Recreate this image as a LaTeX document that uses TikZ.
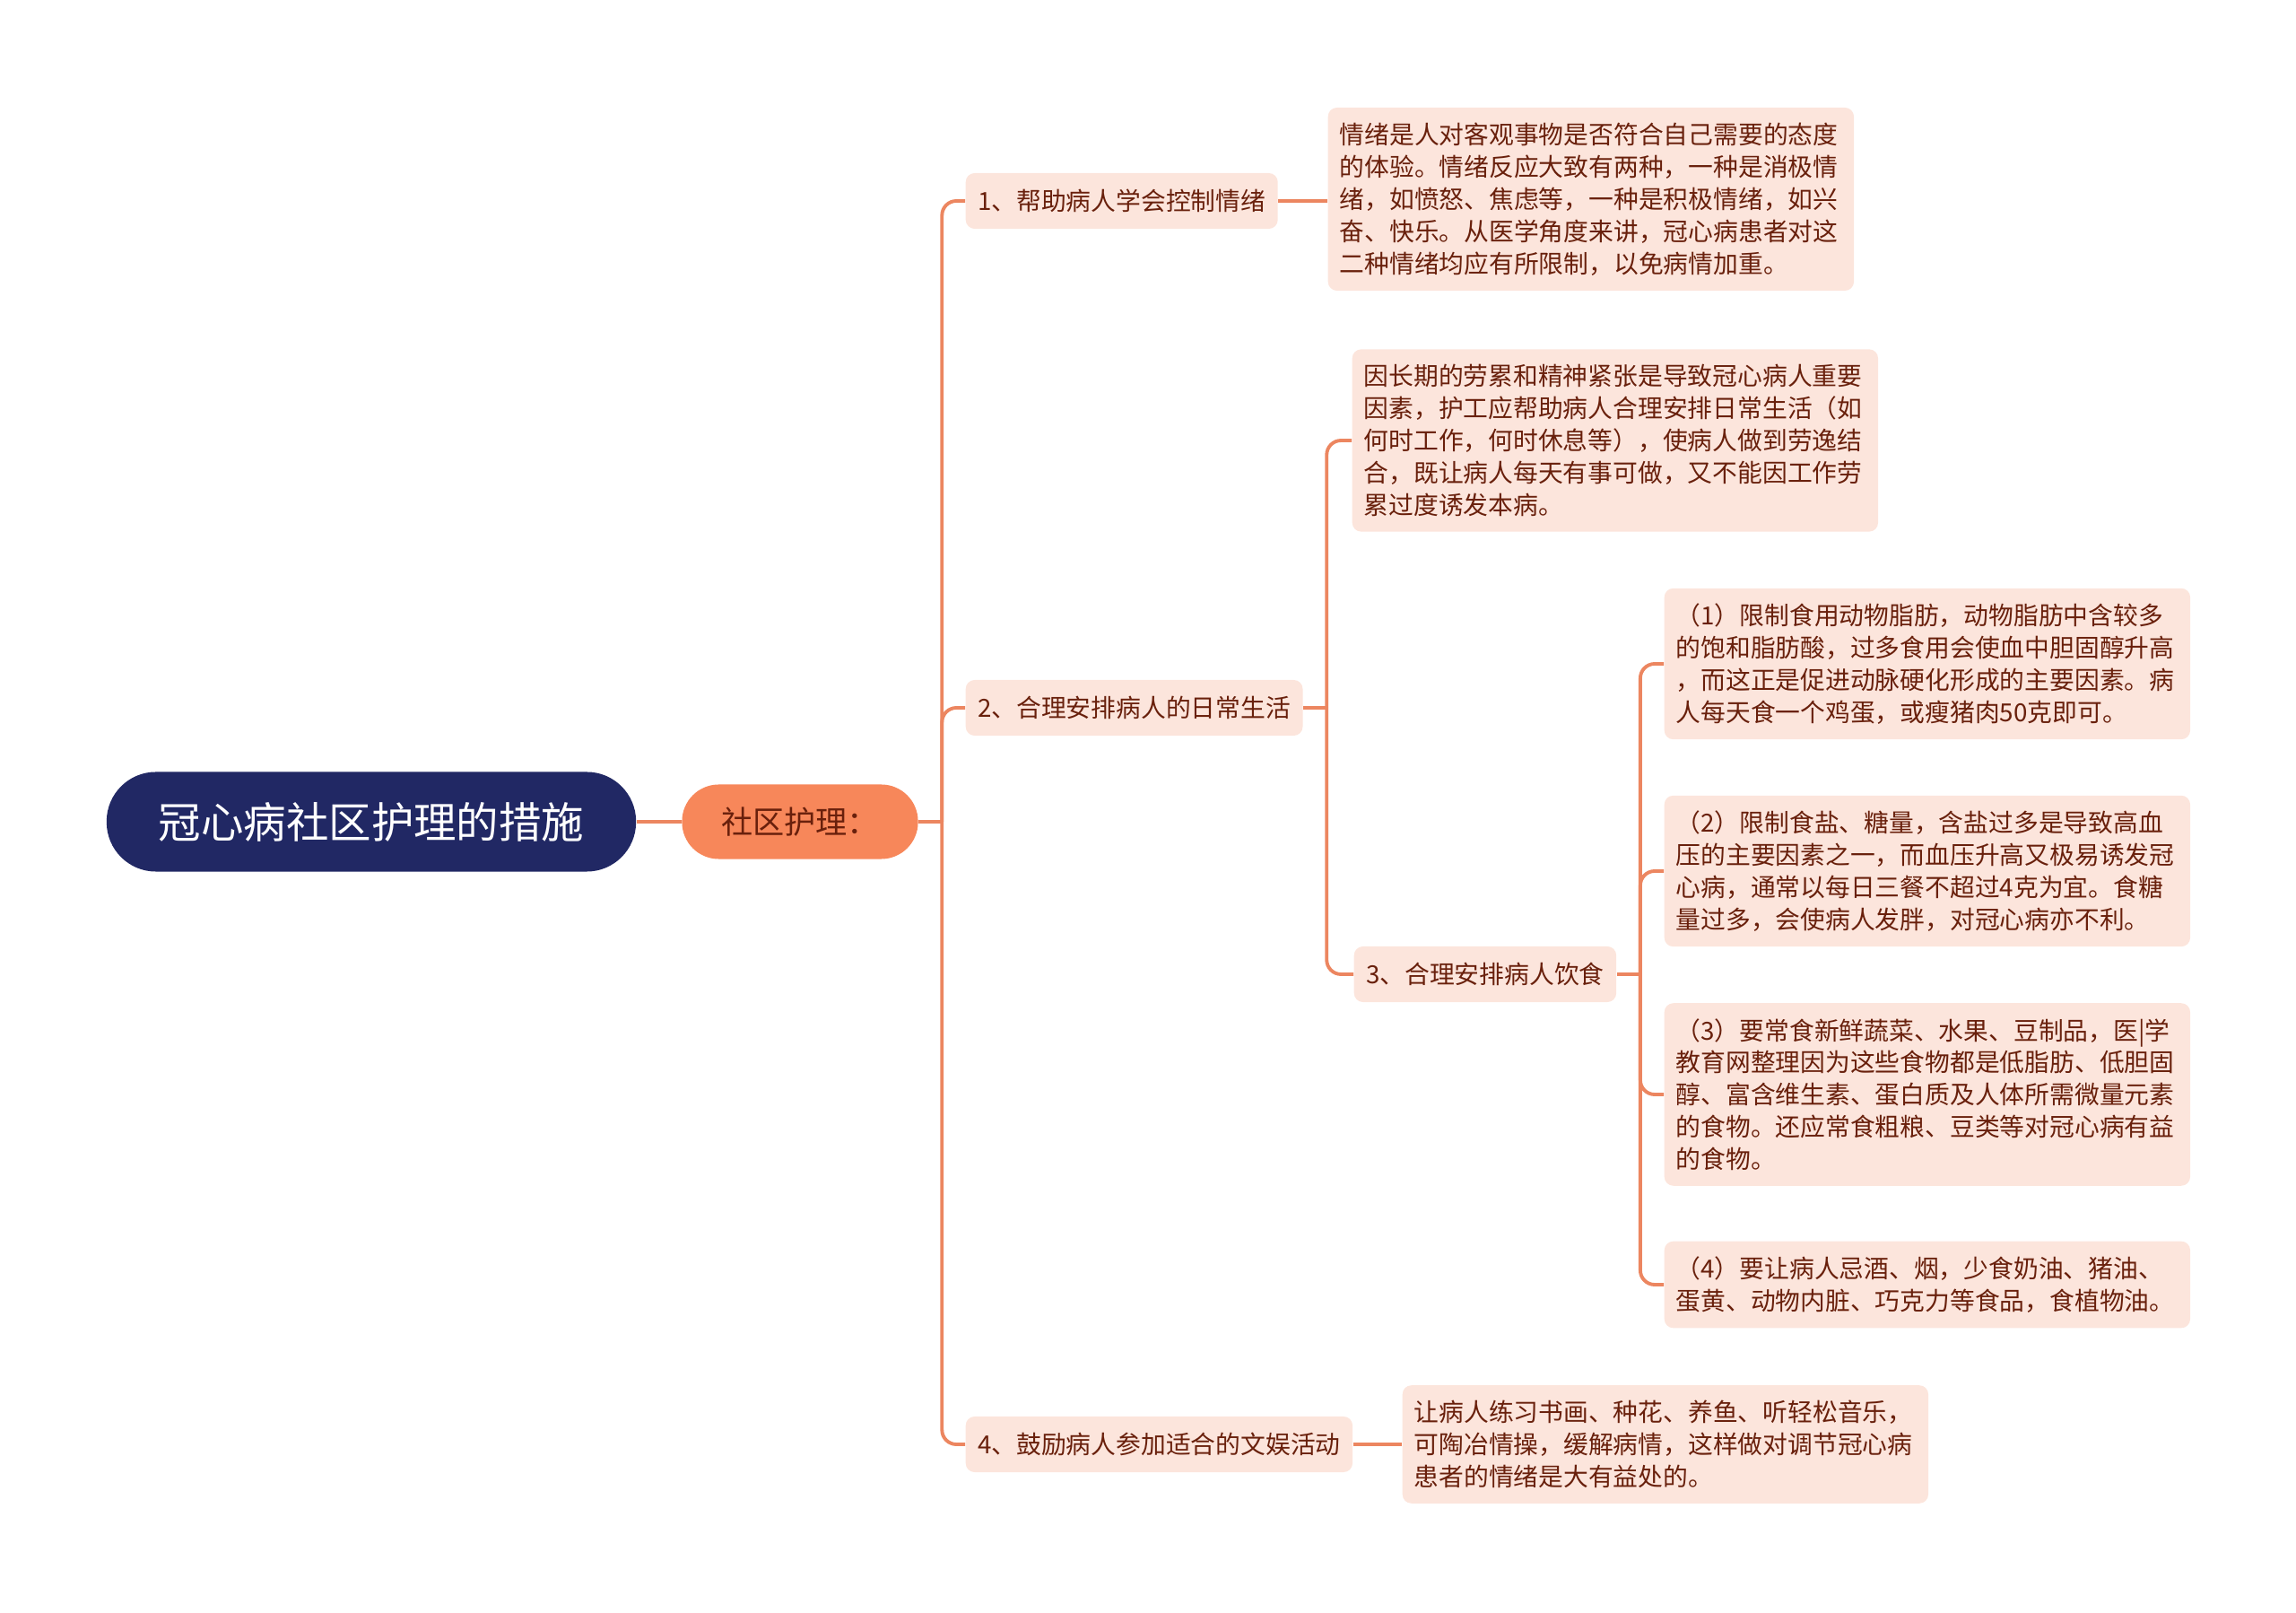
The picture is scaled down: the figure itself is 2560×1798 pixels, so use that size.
\documentclass[tikz,border=0pt]{standalone}
\usepackage{fontspec}
\setmainfont{Noto Sans CJK SC}
\definecolor{rootc}{RGB}{33,40,100}
\definecolor{catc}{RGB}{247,135,90}
\definecolor{boxc}{RGB}{252,229,220}
\definecolor{linkc}{RGB}{236,134,96}
\definecolor{textc}{RGB}{105,32,12}
\begin{document}
\begin{tikzpicture}[
  x=0.01cm, y=-0.01cm,
  root/.style={fill=rootc,text=white,rounded corners=0.55cm,minimum width=5.9cm,minimum height=1.11cm,
    font=\fontsize{13.5pt}{16pt}\selectfont},
  cat/.style={fill=catc,text=textc,rounded corners=0.41cm,minimum width=2.63cm,minimum height=0.83cm,
    font=\fontsize{10pt}{12pt}\selectfont},
  topic/.style={fill=boxc,text=textc,rounded corners=0.1cm,anchor=west,inner xsep=0.135cm,inner ysep=0.17cm,
    minimum height=0.62cm,font=\fontsize{7.9pt}{10.2pt}\selectfont},
  note/.style={topic,text width=5.6cm,align=left,inner xsep=0.13cm},
  link/.style={draw=linkc,line width=1.1pt,rounded corners=0.16cm}
]
\useasboundingbox (0,0) rectangle (2560,1798);
% --- Nodes ---
\node[root] (R) at (414,916) {冠心病社区护理的措施};
\node[cat]  (C) at (892,916) {社区护理：};

% level 2
\node[topic] (T1) at (1076,224)  {1、帮助病人学会控制情绪};
\node[topic] (T2) at (1076,789)  {2、合理安排病人的日常生活};
\node[topic] (T3) at (1509,1086) {3、合理安排病人饮食};
\node[topic] (T4) at (1076,1610) {4、鼓励病人参加适合的文娱活动};

% notes
\node[note] (N1) at (1480,222) {情绪是人对客观事物是否符合自己需要的态度\\的体验。情绪反应大致有两种，一种是消极情\\绪，如愤怒、焦虑等，一种是积极情绪，如兴\\奋、快乐。从医学角度来讲，冠心病患者对这\\二种情绪均应有所限制，以免病情加重。};
\node[note] (N2) at (1507,491) {因长期的劳累和精神紧张是导致冠心病人重要\\因素，护工应帮助病人合理安排日常生活（如\\何时工作，何时休息等），使病人做到劳逸结\\合，既让病人每天有事可做，又不能因工作劳\\累过度诱发本病。};
\node[note] (D1) at (1855,740) {（1）限制食用动物脂肪，动物脂肪中含较多\\的饱和脂肪酸，过多食用会使血中胆固醇升高\\，而这正是促进动脉硬化形成的主要因素。病\\人每天食一个鸡蛋，或瘦猪肉50克即可。};
\node[note] (D2) at (1855,971) {（2）限制食盐、糖量，含盐过多是导致高血\\压的主要因素之一，而血压升高又极易诱发冠\\心病，通常以每日三餐不超过4克为宜。食糖\\量过多，会使病人发胖，对冠心病亦不利。};
\node[note] (D3) at (1855,1220) {（3）要常食新鲜蔬菜、水果、豆制品，医|学\\教育网整理因为这些食物都是低脂肪、低胆固\\醇、富含维生素、蛋白质及人体所需微量元素\\的食物。还应常食粗粮、豆类等对冠心病有益\\的食物。};
\node[note] (D4) at (1855,1432) {（4）要让病人忌酒、烟，少食奶油、猪油、\\蛋黄、动物内脏、巧克力等食品，食植物油。};
\node[note] (N4) at (1563,1610) {让病人练习书画、种花、养鱼、听轻松音乐，\\可陶冶情操，缓解病情，这样做对调节冠心病\\患者的情绪是大有益处的。};

% --- Links ---
\draw[link] (R.east) -- (C.west);
% split points
\coordinate (S1) at ([xshift=0.26cm]C.east);
\coordinate (S2) at ([xshift=0.26cm]T2.east);
\coordinate (S3) at ([xshift=0.26cm]T3.east);
\draw[link] (C.east) -- (S1);
\draw[link] (T2.east) -- (S2);
\draw[link] (T3.east) -- (S3);
\foreach \t in {T1,T2,T4}
  \draw[link] (S1) |- (\t.west);
\draw[link] (T1.east) -- (N1.west |- T1.east);
\draw[link] (T4.east) -- (N4.west |- T4.east);
\foreach \t in {N2,T3}
  \draw[link] (S2) |- (\t.west);
\foreach \t in {D1,D2,D3,D4}
  \draw[link] (S3) |- (\t.west);
\end{tikzpicture}
\end{document}
